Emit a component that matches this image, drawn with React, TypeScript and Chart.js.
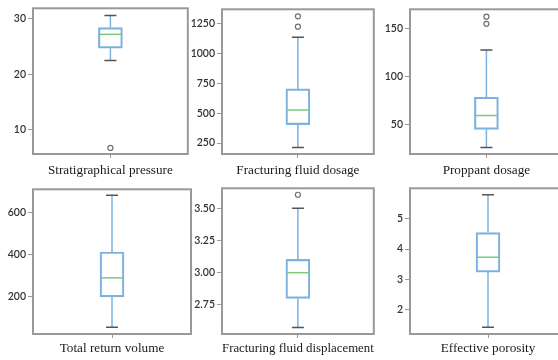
import React, { useEffect, useRef } from 'react';
import Chart from 'chart.js/auto';

// ---- data ----
const panelLabels = [
  'Stratigraphical pressure',
  'Fracturing fluid dosage',
  'Proppant dosage',
  'Total return volume',
  'Fracturing fluid displacement',
  'Effective porosity',
];
const whiskerLow = [22.5, 212, 26.5, 51, 2.573, 1.42];
const quartile1 = [24.7, 405, 45.3, 197, 2.8, 3.24];
const medians = [27.2, 527, 59.8, 288, 3.0, 3.73];
const quartile3 = [28.4, 704, 78.8, 412, 3.103, 4.54];
const whiskerHigh = [30.6, 1138, 128, 685, 3.5, 5.79];
const outliers = [[6.7], [1226, 1313], [155.4, 162.8], [], [3.606], []];
const axisMin = [5.6, 158, 19.7, 18.6, 2.523, 1.2];
const axisMax = [31.9, 1372, 170.5, 713, 3.656, 6.0];
const tickValues = [
  [10, 20, 30],
  [250, 500, 750, 1000, 1250],
  [50, 100, 150],
  [200, 400, 600],
  [2.75, 3.0, 3.25, 3.5],
  [2, 3, 4, 5],
];
const tickDecimals = [0, 0, 0, 0, 2, 0];

// ---- layout (pixel frames of each plot area) ----
const frames = [
  { l: 33, t: 4, r: 191, b: 154, pb: 6 },
  { l: 222, t: 5, r: 377, b: 154, pb: 6 },
  { l: 410, t: 5, r: 566, b: 154, pb: 6 },
  { l: 33, t: 185, r: 191, b: 334, pb: 8 },
  { l: 222, t: 184, r: 377, b: 334, pb: 8 },
  { l: 410, t: 184, r: 566, b: 334, pb: 8 },
];

const AXIS_W = 40;
const AXIS_H = 30;
const PAD_T = 4;
const PAD_R = 2;

const BOX_COLOR = '#7db2e0';
const MED_COLOR = '#7ccb7c';
const CAP_COLOR = '#555555';
const FRAME_COLOR = '#999999';
const BOX_W = 24;
const CAP_W = 12;

function Panel({ i }: { i: number }) {
  const ref = useRef<HTMLCanvasElement | null>(null);
  const f = frames[i];
  const width = f.r - f.l + AXIS_W + PAD_R;
  const height = f.b - f.t + PAD_T + AXIS_H;

  useEffect(() => {
    if (!ref.current) return;
    const label = panelLabels[i];
    const boxPlugin = {
      id: 'boxExtras' + i,
      afterDatasetsDraw(chart: any) {
        const ctx = chart.ctx;
        const xs = chart.scales.x;
        const ys = chart.scales.y;
        const xc = xs.getPixelForValue(0);
        const yLo = ys.getPixelForValue(whiskerLow[i]);
        const yQ1 = ys.getPixelForValue(quartile1[i]);
        const yMed = ys.getPixelForValue(medians[i]);
        const yQ3 = ys.getPixelForValue(quartile3[i]);
        const yHi = ys.getPixelForValue(whiskerHigh[i]);
        ctx.save();
        ctx.lineWidth = 1.5;
        ctx.strokeStyle = BOX_COLOR;
        ctx.beginPath();
        ctx.moveTo(xc, yQ3);
        ctx.lineTo(xc, yHi);
        ctx.moveTo(xc, yQ1);
        ctx.lineTo(xc, yLo);
        ctx.stroke();
        ctx.strokeStyle = CAP_COLOR;
        ctx.beginPath();
        ctx.moveTo(xc - CAP_W / 2, yHi);
        ctx.lineTo(xc + CAP_W / 2, yHi);
        ctx.moveTo(xc - CAP_W / 2, yLo);
        ctx.lineTo(xc + CAP_W / 2, yLo);
        ctx.stroke();
        ctx.strokeStyle = MED_COLOR;
        ctx.beginPath();
        ctx.moveTo(xc - BOX_W / 2 + 1, yMed);
        ctx.lineTo(xc + BOX_W / 2 - 1, yMed);
        ctx.stroke();
        ctx.restore();
      },
      afterDraw(chart: any) {
        const a = chart.chartArea;
        const ctx = chart.ctx;
        ctx.save();
        ctx.strokeStyle = FRAME_COLOR;
        ctx.lineWidth = 2;
        ctx.strokeRect(a.left, a.top, a.right - a.left, a.bottom - a.top);
        ctx.restore();
      },
    };

    const chart = new Chart(ref.current, {
      type: 'bar',
      data: {
        labels: [label],
        datasets: [
          {
            type: 'bar',
            data: [[quartile1[i], quartile3[i]]] as any,
            backgroundColor: 'rgba(255,255,255,0)',
            borderColor: BOX_COLOR,
            borderWidth: 1.5,
            borderSkipped: false,
            barThickness: BOX_W,
          } as any,
          {
            type: 'line',
            data: outliers[i].map((v) => ({ x: label, y: v })) as any,
            showLine: false,
            pointRadius: 2.5,
            pointBorderWidth: 1.2,
            pointBorderColor: '#707070',
            pointBackgroundColor: 'rgba(255,255,255,0)',
          } as any,
        ],
      },
      options: {
        responsive: false,
        animation: false,
        devicePixelRatio: 1,
        layout: { padding: { top: PAD_T, right: PAD_R, left: 0, bottom: 0 } },
        plugins: { legend: { display: false }, tooltip: { enabled: false }, title: { display: false } },
        scales: {
          x: {
            type: 'category',
            offset: true,
            grid: { display: true, drawOnChartArea: false, offset: false, tickLength: 4, color: FRAME_COLOR },
            border: { display: false },
            ticks: { display: false },
            title: {
              display: true,
              text: label,
              color: '#1a1a1a',
              font: { family: '"Liberation Serif", "Times New Roman", serif', size: 13.2 },
              padding: { top: 0, bottom: f.pb },
            },
            afterFit: (s: any) => {
              s.height = AXIS_H;
            },
          },
          y: {
            type: 'linear',
            min: axisMin[i],
            max: axisMax[i],
            grid: { display: true, drawOnChartArea: false, tickLength: 5, color: FRAME_COLOR },
            border: { display: false },
            ticks: {
              color: '#333333',
              padding: 2,
              font: { family: 'Lato, "Open Sans", sans-serif', size: 10.5, weight: '600' },
              callback: (v: any) => Number(v).toFixed(tickDecimals[i]),
            },
            afterBuildTicks: (s: any) => {
              s.ticks = tickValues[i].map((v) => ({ value: v }));
            },
            afterFit: (s: any) => {
              s.width = AXIS_W;
            },
          },
        },
      } as any,
      plugins: [boxPlugin],
    });
    return () => chart.destroy();
  }, [i]);

  return (
    <canvas
      ref={ref}
      width={width}
      height={height}
      style={{
        position: 'absolute',
        left: f.l - AXIS_W,
        top: f.t - PAD_T,
        width: width,
        height: height,
      }}
    />
  );
}

export default function App() {
  useEffect(() => {
    document.body.style.margin = '0';
    document.body.style.overflow = 'hidden';
  }, []);
  return (
    <div
      style={{
        position: 'absolute',
        left: 0,
        top: 0,
        width: 558,
        height: 360,
        overflow: 'hidden',
        background: '#ffffff',
      }}
    >
      {panelLabels.map((_, i) => (
        <Panel key={i} i={i} />
      ))}
    </div>
  );
}
